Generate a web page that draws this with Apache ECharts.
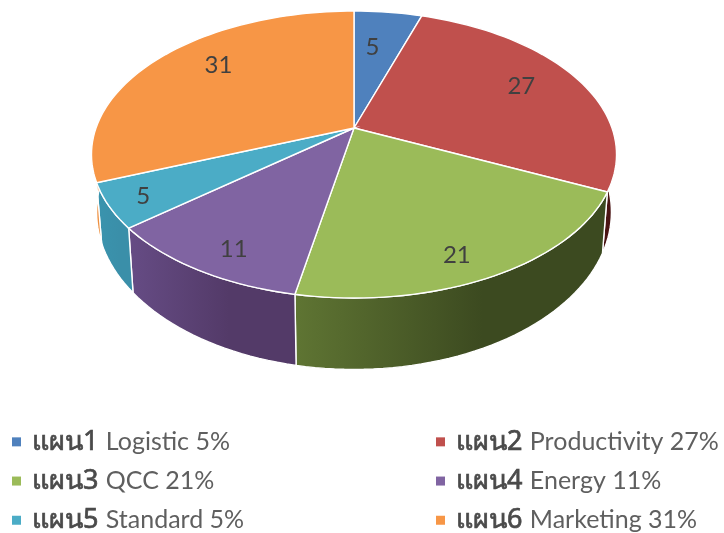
<!DOCTYPE html>
<html>
<head>
<meta charset="utf-8">
<style>html,body{margin:0;padding:0;background:#fff}#c{width:724px;height:533px}</style>
<script src="https://cdn.jsdelivr.net/npm/echarts@6/dist/echarts.min.js"></script>
</head>
<body>
<div id="c"></div>
<script>
const plans = ['แผน1','แผน2','แผน3','แผน4','แผน5','แผน6'];
const topics = ['Logistic','Productivity','QCC','Energy','Standard','Marketing'];
const values = [5,27,21,11,5,31];
const topColors = ['#4f81bd','#c0504d','#9bbb59','#8064a2','#4bacc6','#f79646'];
const sideLeft = ['#3f6a9e','#5e1f1e','#5f7533','#664c85','#3a94ae','#ee9040'];
const sideRight = ['#2f5580','#4a1414','#3c4a20','#533a68','#3a8fa9','#ee9040'];
const labelReach = [0.66,0.758,0.855,0.855,0.875,0.756];
const labelTurn = [-2,-1.6,3.5,-2.6,-0.6,6.5];

const topPlane = {y0:128,k:138.6,a:258,cx:354};
const basePlane = {y0:183,k:152,a:253,cx:354};
const tilt = 0.1847;
const total = values.reduce((s,v)=>s+v,0);
const starts = values.map((_,i)=>values.slice(0,i).reduce((s,v)=>s+v,0)/total*Math.PI*2);
const ends = values.map((_,i)=>values.slice(0,i+1).reduce((s,v)=>s+v,0)/total*Math.PI*2);

function project(theta,r,pl){
  const u=Math.sin(theta)*r, v=-Math.cos(theta)*r, d=1-tilt*v;
  return [pl.cx+pl.a*u/d, pl.y0+pl.k*v/d];
}
function arc(i,pl){
  const pts=[], n=Math.max(8,Math.ceil(values[i]*2));
  for(let s=0;s<=n;s++) pts.push(project(starts[i]+(ends[i]-starts[i])*s/n,1,pl));
  return pts;
}
function sides(params){
  const i=params.dataIndex;
  return {type:'polygon',shape:{points:arc(i,topPlane).concat(arc(i,basePlane).reverse())},
    style:{fill:new echarts.graphic.LinearGradient(0,0,1,0,[{offset:0,color:sideLeft[i]},{offset:.6,color:sideRight[i]},{offset:1,color:sideRight[i]}]),stroke:'#fff',lineWidth:1.4}};
}
function face(i){
  return function(){
    const mid=(starts[i]+ends[i])/2+labelTurn[i]*Math.PI/180;
    const p=project(mid,labelReach[i],topPlane);
    return {type:'group',children:[
      {type:'polygon',shape:{points:[project(0,0,topPlane)].concat(arc(i,topPlane))},
        style:{fill:topColors[i],stroke:'#fff',lineWidth:1.4}},
      {type:'text',style:{text:String(values[i]),x:p[0],y:p[1],align:'center',verticalAlign:'middle',
        font:'24px Lato, "Open Sans", sans-serif',fill:'#404040'}}
    ]};
  };
}
const names=plans.map((p,i)=>p+' '+topics[i]+' '+values[i]+'%');
const series=[{type:'custom',coordinateSystem:'none',name:'sides',z:1,silent:true,data:values,renderItem:sides}];
names.forEach((n,i)=>series.push({type:'custom',coordinateSystem:'none',name:n,z:2,data:[values[i]],
  itemStyle:{color:topColors[i]},renderItem:face(i)}));
function legend(left,idx,top){
  return {orient:'vertical',left:left,top:top,height:125,padding:[0,5,0,5],itemWidth:9,itemHeight:9,itemGap:11.5,icon:'rect',
    data:idx.map(i=>names[i]),selectedMode:false,
    formatter:n=>{const k=n.indexOf(' ');return '{a|'+n.slice(0,k)+'}{b| '+n.slice(k+1)+'}';},
    textStyle:{rich:{
      a:{fontFamily:'"Noto Sans","DejaVu Sans",sans-serif',fontSize:27,fontWeight:'normal',color:'#4a4a4a',textBorderColor:'#4a4a4a',textBorderWidth:0.7,padding:[0,0,0,6],lineHeight:28},
      b:{fontFamily:'Lato,"Open Sans",sans-serif',fontSize:25,color:'#5f5f5f',padding:[0,0,0,1],lineHeight:28}}}};
}
const chart=echarts.init(document.getElementById('c'),null,{renderer:'canvas'});
chart.setOption({animation:false,backgroundColor:'#fff',
  legend:[legend(7,[0,2,4],428),legend(431,[1,3,5],428)],
  series:series});
</script>
</body>
</html>
